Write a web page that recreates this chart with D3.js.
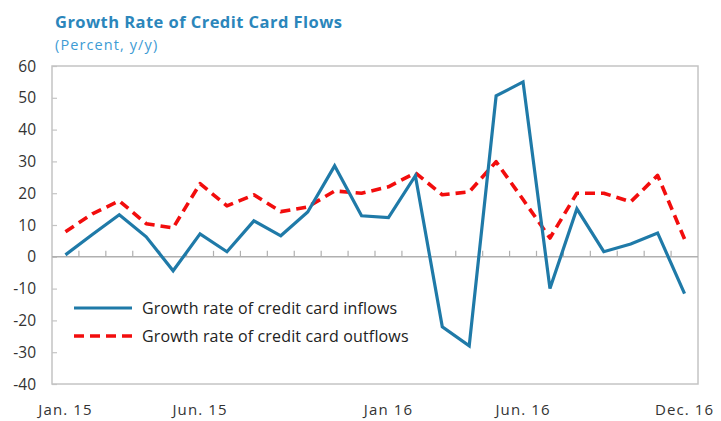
<!DOCTYPE html>
<html>
<head>
<meta charset="utf-8">
<script src="https://cdn.jsdelivr.net/npm/d3@7"></script>
<style>
  html, body { margin: 0; padding: 0; background: #fff; }
  svg { display: block; }
</style>
</head>
<body>
<svg id="chart" width="721" height="421"></svg>
<script>
// Monthly categories, Jan 2015 – Dec 2016
const months = ["Jan15","Feb15","Mar15","Apr15","May15","Jun15","Jul15","Aug15","Sep15","Oct15","Nov15","Dec15",
                "Jan16","Feb16","Mar16","Apr16","May16","Jun16","Jul16","Aug16","Sep16","Oct16","Nov16","Dec16"];

// Growth rate of credit card inflows (percent, y/y)
const inflows = [0.6, 7, 13.2, 6.3, -4.4, 7.2, 1.6, 11.3, 6.6, 14.1, 28.6, 12.9,
                 12.3, 25.5, -22, -28, 50.6, 55, -10, 15.1, 1.6, 4, 7.5, -11.6];

// Growth rate of credit card outflows (percent, y/y)
const outflows = [7.9, 13.5, 17.6, 10.4, 9.1, 23, 16, 19.5, 14.2, 15.7, 20.7, 20,
                  22, 26.4, 19.5, 20.4, 29.9, 18, 5.9, 20, 20, 17.3, 25.6, 5.6];

const yTicks = [60, 50, 40, 30, 20, 10, 0, -10, -20, -30, -40];
const xLabels = [
  { month: "Jan15", text: "Jan. 15" },
  { month: "Jun15", text: "Jun. 15" },
  { month: "Jan16", text: "Jan 16" },
  { month: "Jun16", text: "Jun. 16" },
  { month: "Dec16", text: "Dec. 16" }
];
const seriesNames = ["Growth rate of credit card inflows", "Growth rate of credit card outflows"];

const svg = d3.select("#chart");
const font = "'Open Sans', 'Noto Sans', sans-serif";

const plot = { left: 52, right: 698, top: 66, bottom: 384 };

const x = d3.scaleBand().domain(months).range([plot.left, plot.right]);
const y = d3.scaleLinear().domain([-40, 60]).range([plot.bottom, plot.top]);
const xc = m => x(m) + x.bandwidth() / 2;

// Title and unit
svg.append("text")
  .attr("x", 55).attr("y", 28)
  .attr("font-family", font).attr("font-size", 16.5).attr("font-weight", 700)
  .attr("letter-spacing", 0.45)
  .attr("fill", "#2b86bb")
  .text("Growth Rate of Credit Card Flows");
svg.append("text")
  .attr("x", 55).attr("y", 50)
  .attr("font-family", font).attr("font-size", 14.5)
  .attr("letter-spacing", 1.1)
  .attr("fill", "#3d9bd4")
  .text("(Percent, y/y)");

// Plot frame
svg.append("rect")
  .attr("x", plot.left).attr("y", plot.top)
  .attr("width", plot.right - plot.left).attr("height", plot.bottom - plot.top)
  .attr("fill", "none").attr("stroke", "#c4c4c4").attr("stroke-width", 1.5);

// Y axis: labels on the left, small ticks inside the frame
const yAxis = d3.axisRight(y).tickValues(yTicks).tickSize(5).tickFormat("");
const gy = svg.append("g").attr("transform", `translate(${plot.left},0)`).call(yAxis);
gy.select(".domain").remove();
gy.selectAll(".tick line").attr("stroke", "#c4c4c4").attr("stroke-width", 1.2);

svg.append("g").selectAll("text")
  .data(yTicks).join("text")
  .attr("x", 36).attr("y", d => y(d) + 5.5)
  .attr("text-anchor", "end")
  .attr("font-family", font).attr("font-size", 15.5)
  .attr("fill", "#333")
  .text(d => d);

// Zero line with month ticks between categories
svg.append("line")
  .attr("x1", plot.left).attr("x2", plot.right)
  .attr("y1", y(0)).attr("y2", y(0))
  .attr("stroke", "#b0b0b0").attr("stroke-width", 1.6);
svg.append("g").selectAll("line")
  .data(months.slice(1)).join("line")
  .attr("x1", d => x(d)).attr("x2", d => x(d))
  .attr("y1", y(0)).attr("y2", y(0) - 6)
  .attr("stroke", "#b0b0b0").attr("stroke-width", 1.2);

// X labels
svg.append("g").selectAll("text")
  .data(xLabels).join("text")
  .attr("x", d => xc(d.month)).attr("y", 415)
  .attr("text-anchor", "middle")
  .attr("font-family", font).attr("font-size", 15)
  .attr("letter-spacing", 1.1)
  .attr("fill", "#333")
  .text(d => d.text);

// Series lines
const line = d3.line().x((d, i) => xc(months[i])).y(d => y(d));

svg.append("path")
  .datum(outflows)
  .attr("d", line)
  .attr("fill", "none").attr("stroke", "#f20d0d").attr("stroke-width", 3.6)
  .attr("stroke-dasharray", "10,6").attr("stroke-linejoin", "round");

svg.append("path")
  .datum(inflows)
  .attr("d", line)
  .attr("fill", "none").attr("stroke", "#1f7aa8").attr("stroke-width", 3.2)
  .attr("stroke-linejoin", "miter");

// Legend
const legend = svg.append("g");
const legendRows = [
  { name: seriesNames[0], color: "#1f7aa8", dash: null, w: 3.2, y: 308 },
  { name: seriesNames[1], color: "#f20d0d", dash: "10,6", w: 3.6, y: 336 }
];
legendRows.forEach(r => {
  legend.append("line")
    .attr("x1", 74).attr("x2", 132).attr("y1", r.y).attr("y2", r.y)
    .attr("stroke", r.color).attr("stroke-width", r.w)
    .attr("stroke-dasharray", r.dash);
  legend.append("text")
    .attr("x", 142).attr("y", r.y + 5.5)
    .attr("font-family", font).attr("font-size", 16)
    .attr("letter-spacing", 0.15)
    .attr("fill", "#222")
    .text(r.name);
});
</script>
</body>
</html>
